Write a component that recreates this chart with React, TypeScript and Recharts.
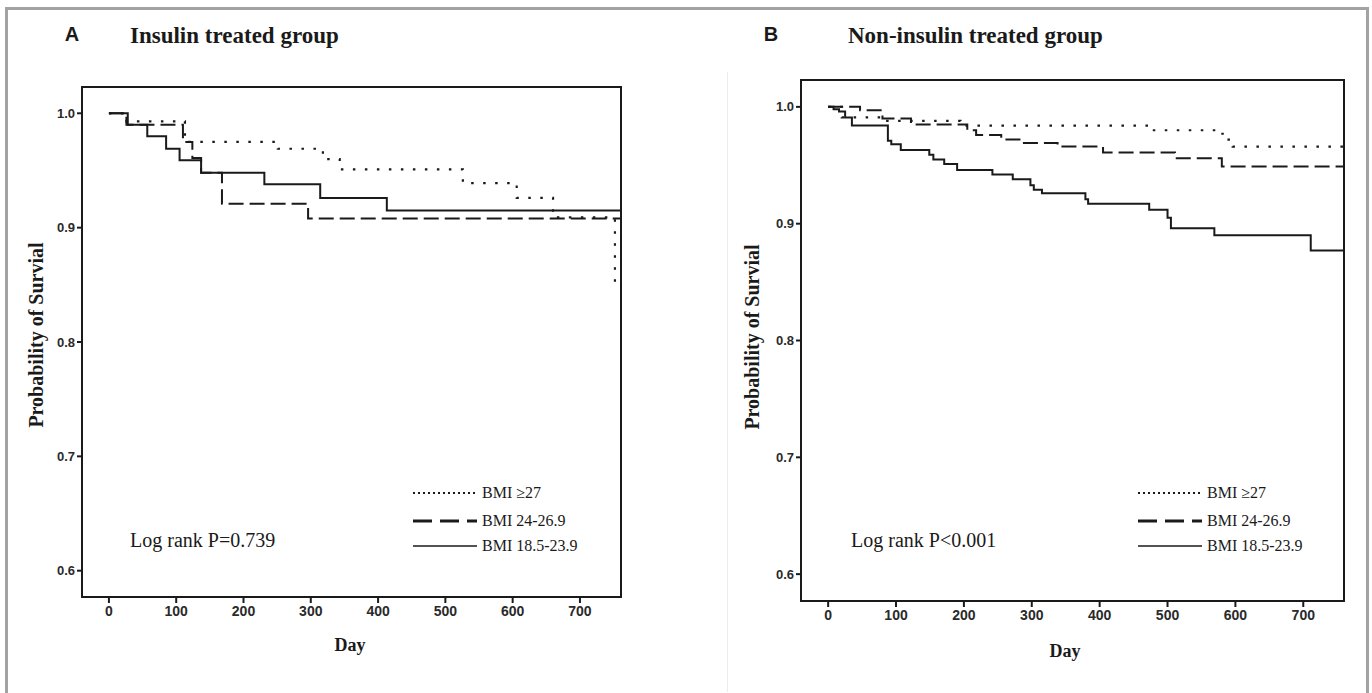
import { LineChart, Line, XAxis, YAxis, ReferenceArea } from 'recharts';

const DAY_TICKS = [0, 100, 200, 300, 400, 500, 600, 700];
const SURV_TICKS = [0.6, 0.7, 0.8, 0.9, 1.0];
const GROUP_LABELS = ['BMI ≥27', 'BMI 24-26.9', 'BMI 18.5-23.9'];

// A: insulin treated group, [day, survival]
const A_BMI27: [number, number][] = [
  [0, 1], [26, 0.993], [113, 0.975], [251, 0.969], [318, 0.96], [343, 0.951],
  [526, 0.939], [606, 0.926], [660, 0.909], [752, 0.848],
];
const A_BMI24: [number, number][] = [
  [0, 1], [26, 0.99], [110, 0.975], [124, 0.961], [137, 0.948], [168, 0.921],
  [296, 0.908], [761, 0.908],
];
const A_BMI18: [number, number][] = [
  [0, 1], [28, 0.99], [57, 0.98], [85, 0.969], [105, 0.959], [137, 0.948],
  [231, 0.938], [314, 0.926], [413, 0.915], [761, 0.915],
];

// B: non-insulin treated group
const B_BMI27: [number, number][] = [
  [0, 1], [20, 0.991], [85, 0.988], [195, 0.984], [473, 0.98], [571, 0.977],
  [583, 0.972], [596, 0.966], [760, 0.966],
];
const B_BMI24: [number, number][] = [
  [0, 1], [47, 0.997], [80, 0.99], [122, 0.985], [205, 0.98], [218, 0.976],
  [255, 0.972], [285, 0.969], [338, 0.966], [405, 0.961], [511, 0.956],
  [580, 0.949], [760, 0.949],
];
const B_BMI18: [number, number][] = [
  [0, 1], [8, 0.998], [16, 0.996], [25, 0.991], [35, 0.984], [88, 0.971],
  [93, 0.968], [107, 0.963], [149, 0.959], [155, 0.955], [171, 0.951],
  [190, 0.946], [242, 0.942], [272, 0.938], [298, 0.933], [303, 0.929],
  [315, 0.926], [379, 0.921], [383, 0.917], [473, 0.912], [500, 0.905],
  [505, 0.896], [569, 0.89], [711, 0.877], [760, 0.877],
];

const LINE_STYLES = [
  { dash: '2.5 9.5', width: 2.2 },
  { dash: '15 6', width: 2 },
  { dash: undefined, width: 2 },
];
const LEGEND_STYLES = [
  { dash: '2 3', width: 2 },
  { dash: '19 8', width: 3 },
  { dash: undefined, width: 1.5 },
];

const SERIF = '"Liberation Serif", "Times New Roman", serif';
const SANS = '"Liberation Sans", Arial, sans-serif';
const INK = '#1a1a1a';

const toRows = (pts: [number, number][]) => pts.map(([day, s]) => ({ day, s }));

type PanelProps = {
  left: number;
  top: number;
  width: number;
  height: number;
  margin: { top: number; right: number; bottom: number; left: number };
  xDomain: [number, number];
  series: [number, number][][];
};

function Panel({ left, top, width, height, margin, xDomain, series }: PanelProps) {
  const yDomain: [number, number] = [0.577, 1.023];
  const xTick = { fontFamily: SANS, fontSize: 14, fontWeight: 700, fill: '#2a2a2a' };
  const yTick = { fontFamily: SANS, fontSize: 13, fontWeight: 700, fill: '#2a2a2a' };
  return (
    <div style={{ position: 'absolute', left, top }}>
      <LineChart width={width} height={height} margin={margin}>
        <XAxis
          type="number"
          dataKey="day"
          domain={xDomain}
          allowDataOverflow
          ticks={DAY_TICKS}
          axisLine={false}
          tickSize={6}
          tickMargin={3}
          height={30}
          tick={xTick}
          tickLine={{ stroke: INK, strokeWidth: 2 }}
        />
        <YAxis
          type="number"
          domain={yDomain}
          allowDataOverflow
          ticks={SURV_TICKS}
          axisLine={false}
          tickSize={5}
          tickMargin={2}
          width={40}
          tick={yTick}
          tickLine={{ stroke: INK, strokeWidth: 2 }}
          tickFormatter={(v: number) => v.toFixed(1)}
        />
        <ReferenceArea
          x1={xDomain[0]}
          x2={xDomain[1]}
          y1={yDomain[0]}
          y2={yDomain[1]}
          fill="none"
          stroke={INK}
          strokeWidth={2}
          ifOverflow="visible"
        />
        {series.map((pts, i) => (
          <Line
            key={GROUP_LABELS[i]}
            data={toRows(pts)}
            dataKey="s"
            type="stepAfter"
            stroke={INK}
            strokeWidth={LINE_STYLES[i].width}
            strokeDasharray={LINE_STYLES[i].dash}
            dot={false}
            activeDot={false}
            isAnimationActive={false}
          />
        ))}
      </LineChart>
    </div>
  );
}

// centred text, or left-anchored when anchor="start"
function Txt({ x, y, children, style, anchor }: { x: number; y: number; children: any; style?: any; anchor?: string }) {
  return (
    <div
      style={{
        position: 'absolute',
        left: x,
        top: y,
        transform: anchor === 'start' ? 'translate(0, -50%)' : 'translate(-50%, -50%)',
        whiteSpace: 'nowrap',
        color: INK,
        lineHeight: 1,
        ...style,
      }}
    >
      {children}
    </div>
  );
}

function KMLegend({ x, y }: { x: number; y: number }) {
  const rowY = [0, 28, 53];
  return (
    <div style={{ position: 'absolute', left: x, top: y }}>
      {GROUP_LABELS.map((label, i) => (
        <div
          key={label}
          style={{ position: 'absolute', left: 0, top: rowY[i] - 10, height: 20, display: 'flex', alignItems: 'center', whiteSpace: 'nowrap' }}
        >
          <svg width={64} height={6}>
            <line
              x1={0}
              y1={3}
              x2={64}
              y2={3}
              stroke={INK}
              strokeWidth={LEGEND_STYLES[i].width}
              strokeDasharray={LEGEND_STYLES[i].dash}
            />
          </svg>
          <span style={{ fontFamily: SERIF, fontSize: 16, marginLeft: 5, color: INK }}>{label}</span>
        </div>
      ))}
    </div>
  );
}

export default function App() {
  const titleStyle = { fontFamily: SERIF, fontSize: 23, fontWeight: 700 };
  const letterStyle = { fontFamily: SANS, fontSize: 20, fontWeight: 700 };
  const yLabelStyle = { fontFamily: SERIF, fontSize: 20, fontWeight: 700, transform: 'translate(-50%, -50%) rotate(-90deg)' };
  const dayStyle = { fontFamily: SERIF, fontSize: 18, fontWeight: 700 };
  const logStyle = { fontFamily: SERIF, fontSize: 20 };

  return (
    <div style={{ position: 'absolute', left: 0, top: 0, width: 1372, height: 693, overflow: 'hidden', background: '#fff' }}>
      {/* outer frame, open at the bottom */}
      <div style={{ position: 'absolute', left: 5, top: 7, width: 1358, height: 720, border: '3px solid #a3a3a3' }} />
      <div style={{ position: 'absolute', left: 727, top: 72, width: 1, height: 620, background: '#ececec' }} />

      <Panel
        left={0}
        top={0}
        width={640}
        height={640}
        margin={{ top: 87, right: 19, bottom: 13, left: 42 }}
        xDomain={[-40, 761]}
        series={[A_BMI27, A_BMI24, A_BMI18]}
      />
      <Panel
        left={720}
        top={0}
        width={640}
        height={650}
        margin={{ top: 80, right: 16, bottom: 19, left: 41 }}
        xDomain={[-40, 760]}
        series={[B_BMI27, B_BMI24, B_BMI18]}
      />

      <Txt x={72} y={34} style={letterStyle}>A</Txt>
      <Txt x={130} y={35} anchor="start" style={titleStyle}>Insulin treated group</Txt>
      <Txt x={771} y={34} style={letterStyle}>B</Txt>
      <Txt x={848} y={35} anchor="start" style={titleStyle}>Non-insulin treated group</Txt>

      <Txt x={36} y={335} style={yLabelStyle}>Probability of Survial</Txt>
      <Txt x={752} y={337} style={yLabelStyle}>Probability of Survial</Txt>

      <Txt x={350} y={645} style={dayStyle}>Day</Txt>
      <Txt x={1065} y={651} style={dayStyle}>Day</Txt>

      <Txt x={130} y={540} anchor="start" style={logStyle}>Log rank P=0.739</Txt>
      <Txt x={851} y={540} anchor="start" style={logStyle}>Log rank P&lt;0.001</Txt>

      <KMLegend x={413} y={493} />
      <KMLegend x={1138} y={493} />
    </div>
  );
}
